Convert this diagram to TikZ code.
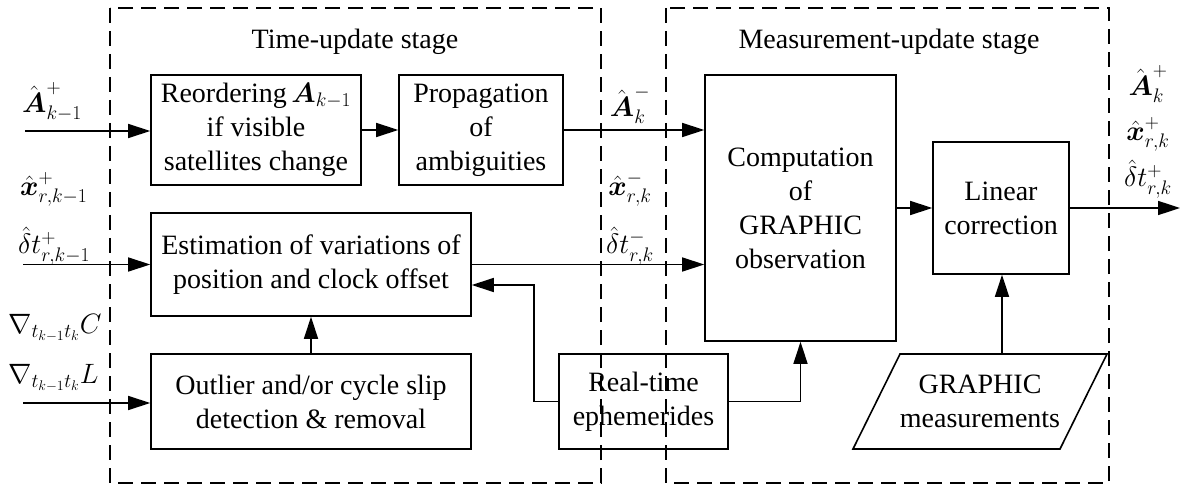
\RequirePackage{fix-cm}
\documentclass[tikz,border=0pt]{standalone}
\usepackage{amsmath}
\usepackage{fontspec}
\setmainfont{Liberation Serif}
\usetikzlibrary{arrows.meta}
\begin{document}
\begin{tikzpicture}[x=1pt,y=-1pt,
  font=\fontsize{28}{34}\selectfont,
  blk/.style={draw,line width=1.6pt,inner sep=0pt,align=center},
  arr/.style={line width=1.6pt,-{Triangle[length=22pt,width=14pt]}},
  ln/.style={line width=1.6pt},
  dbox/.style={line width=1.5pt,dash pattern=on 15pt off 8pt},
  lbl/.style={inner sep=0pt}]
\useasboundingbox (0,0) rectangle (1182,486);
% stage frames
\draw[dbox] (110,8) rectangle (601,483);
\draw[dbox] (666,8) rectangle (1109,483);
\node[lbl] (t1) at (355,42) {Time-update stage};
\node[lbl] (t2) at (889,42) {Measurement-update stage};
% blocks
\node[blk,minimum width=210pt,minimum height=110pt] (reord) at (256,130)
  {Reordering\,$\boldsymbol{A}_{k-1}$\\if visible\\satellites change};
\node[blk,minimum width=164pt,minimum height=110pt] (prop) at (481,130)
  {Propagation\\of\\ambiguities};
\node[blk,minimum width=320pt,minimum height=103pt] (est) at (311,264.5)
  {Estimation of variations of\\position and clock offset};
\node[blk,minimum width=320pt,minimum height=95pt] (outl) at (311,401.5)
  {Outlier and/or cycle slip\\detection \& removal};
\node[blk,minimum width=169pt,minimum height=95pt] (rte) at (643.5,401.5)
  {Real-time\\ephemerides};
\node[blk,minimum width=191pt,minimum height=266pt] (comp) at (800.5,208)
  {Computation\\of\\GRAPHIC\\observation};
\node[blk,minimum width=136pt,minimum height=132pt] (lin) at (1001,208)
  {Linear\\correction};
\draw[ln] (853,449) -- (1060,449) -- (1107,354) -- (900,354) -- cycle;
\node[lbl,align=center] (meas) at (980,401.5) {GRAPHIC\\measurements};
\coordinate (meastop) at (1002,354);
% inputs
\coordinate (in1) at (25,131);
\coordinate (in2) at (23,264.5);
\coordinate (in3) at (23,403);
\coordinate (out) at (1180,208);
\coordinate (fb) at (534,285);
\draw[arr] (in1) -- (in1 -| reord.west);
\draw[arr] (in2) -- (est.west);
\draw[arr] (in3) -- (in3 -| outl.west);
\draw[arr] (reord.east) -- (prop.west);
\draw[arr] (prop.east) -- (prop.east -| comp.west);
\draw[arr] (est.east) -- (est.east -| comp.west);
\draw[arr] (outl.north) -- (est.south);
\draw[arr] (rte.west) -| (fb) -- (fb -| est.east);
\draw[arr] (rte.east) -| (comp.south);
\draw[arr] (comp.east) -- (lin.west);
\draw[arr] (meastop) -- (meastop |- lin.south);
\draw[arr] (lin.east) -- (out);
% labels
\node[lbl,anchor=base west] (la) at (22,113) {$\hat{\boldsymbol{A}}_{k-1}^{+}$};
\node[lbl,anchor=base west] (lx) at (20,196) {$\hat{\boldsymbol{x}}_{r,k-1}^{+}$};
\node[lbl,anchor=base west] (lt) at (18,254) {$\hat{\delta}t_{r,k-1}^{+}$};
\node[lbl,anchor=base west] (lc) at (8,333) {$\nabla_{t_{k-1}t_k}C$};
\node[lbl,anchor=base west] (ll) at (8,383) {$\nabla_{t_{k-1}t_k}L$};
\node[lbl,anchor=base] (ma) at (630,117) {$\hat{\boldsymbol{A}}_{k}^{-}$};
\node[lbl,anchor=base] (mx) at (630,196) {$\hat{\boldsymbol{x}}_{r,k}^{-}$};
\node[lbl,anchor=base] (mt) at (630,254) {$\hat{\delta}t_{r,k}^{-}$};
\node[lbl,anchor=base] (ra) at (1148,96) {$\hat{\boldsymbol{A}}_{k}^{+}$};
\node[lbl,anchor=base] (rx) at (1148,141) {$\hat{\boldsymbol{x}}_{r,k}^{+}$};
\node[lbl,anchor=base] (rt) at (1148,187) {$\hat{\delta}t_{r,k}^{+}$};
\end{tikzpicture}
\end{document}
